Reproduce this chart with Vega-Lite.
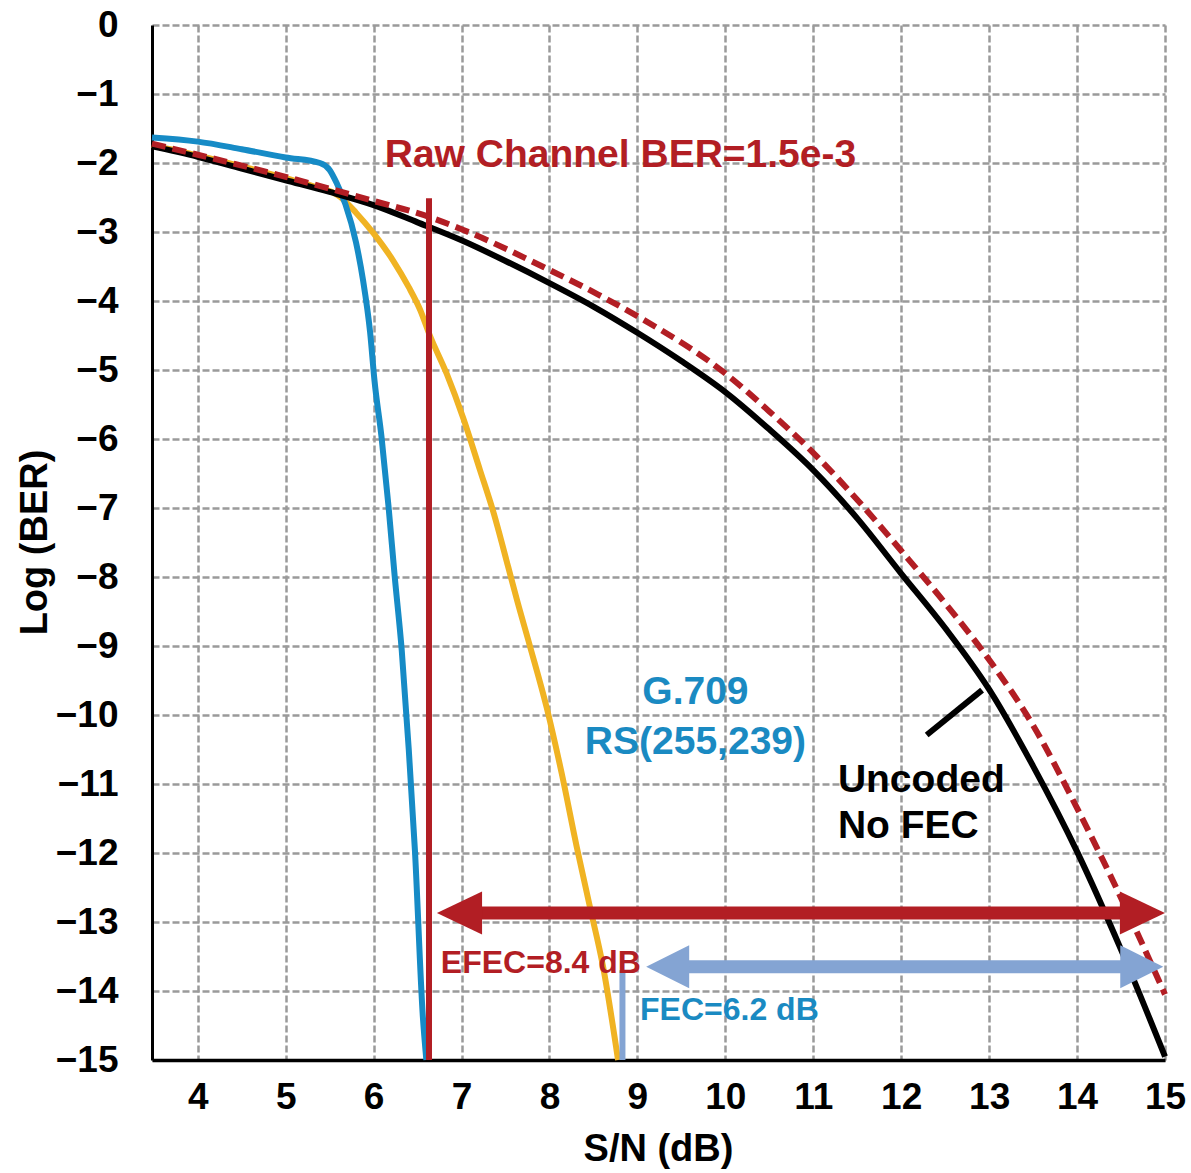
{
  "$schema": "https://vega.github.io/schema/vega-lite/v6.json",
  "width": 1013,
  "height": 1035,
  "autosize": "none",
  "padding": {"left": 152, "top": 25, "right": 26, "bottom": 113},
  "background": "white",
  "config": {"view": {"stroke": null}, "font": "Liberation Sans"},
  "datasets": {
    "uncoded": [
      {"x": 3.48, "y": -1.76}, {"x": 4.0, "y": -1.91}, {"x": 4.5, "y": -2.08}, {"x": 5.0, "y": -2.25},
      {"x": 5.5, "y": -2.42}, {"x": 6.0, "y": -2.61}, {"x": 6.5, "y": -2.86}, {"x": 7.0, "y": -3.12},
      {"x": 7.5, "y": -3.42}, {"x": 8.0, "y": -3.74}, {"x": 8.5, "y": -4.08}, {"x": 9.0, "y": -4.46},
      {"x": 9.5, "y": -4.87}, {"x": 10.0, "y": -5.32}, {"x": 10.5, "y": -5.86}, {"x": 11.0, "y": -6.45},
      {"x": 11.5, "y": -7.15}, {"x": 12.0, "y": -7.95}, {"x": 12.5, "y": -8.74}, {"x": 13.0, "y": -9.63},
      {"x": 13.5, "y": -10.74}, {"x": 14.0, "y": -11.98}, {"x": 14.5, "y": -13.4}, {"x": 15.0, "y": -14.95}
    ],
    "rawchannel": [
      {"x": 3.48, "y": -1.72}, {"x": 4.0, "y": -1.88}, {"x": 5.0, "y": -2.2}, {"x": 6.0, "y": -2.55},
      {"x": 6.63, "y": -2.78}, {"x": 7.0, "y": -2.96}, {"x": 8.0, "y": -3.55}, {"x": 8.56, "y": -3.91},
      {"x": 9.0, "y": -4.22}, {"x": 10.0, "y": -5.05}, {"x": 10.5, "y": -5.6}, {"x": 11.0, "y": -6.2},
      {"x": 11.5, "y": -6.88}, {"x": 12.0, "y": -7.62}, {"x": 12.5, "y": -8.38}, {"x": 13.0, "y": -9.2},
      {"x": 13.5, "y": -10.15}, {"x": 14.0, "y": -11.35}, {"x": 14.5, "y": -12.65}, {"x": 15.0, "y": -14.05}
    ],
    "rs": [
      {"x": 3.48, "y": -1.74}, {"x": 4.0, "y": -1.89}, {"x": 4.5, "y": -2.05}, {"x": 5.0, "y": -2.22},
      {"x": 5.3, "y": -2.33}, {"x": 5.62, "y": -2.49}, {"x": 5.8, "y": -2.72}, {"x": 6.0, "y": -3.02},
      {"x": 6.22, "y": -3.41}, {"x": 6.4, "y": -3.8}, {"x": 6.53, "y": -4.13}, {"x": 6.64, "y": -4.5},
      {"x": 6.83, "y": -5.05}, {"x": 7.02, "y": -5.7}, {"x": 7.21, "y": -6.45}, {"x": 7.36, "y": -7.05},
      {"x": 7.53, "y": -7.85}, {"x": 7.63, "y": -8.33}, {"x": 7.78, "y": -9.01}, {"x": 7.97, "y": -9.9},
      {"x": 8.14, "y": -10.85}, {"x": 8.31, "y": -11.91}, {"x": 8.46, "y": -12.78}, {"x": 8.61, "y": -13.65},
      {"x": 8.78, "y": -15.0}
    ],
    "efec": [
      {"x": 3.48, "y": -1.63}, {"x": 4.0, "y": -1.69}, {"x": 4.5, "y": -1.8}, {"x": 5.0, "y": -1.92},
      {"x": 5.39, "y": -2.0}, {"x": 5.5, "y": -2.1}, {"x": 5.58, "y": -2.29}, {"x": 5.68, "y": -2.6},
      {"x": 5.8, "y": -3.15}, {"x": 5.88, "y": -3.7}, {"x": 5.96, "y": -4.45}, {"x": 6.01, "y": -5.15},
      {"x": 6.09, "y": -5.97}, {"x": 6.17, "y": -6.98}, {"x": 6.24, "y": -7.99}, {"x": 6.32, "y": -9.06},
      {"x": 6.4, "y": -10.5}, {"x": 6.47, "y": -11.96}, {"x": 6.56, "y": -14.37}, {"x": 6.6, "y": -15.0}
    ]
  },
  "encoding": {
    "x": {
      "field": "x", "type": "quantitative",
      "scale": {"domain": [3.48, 15], "nice": false, "zero": false},
      "axis": {
        "values": [4, 5, 6, 7, 8, 9, 10, 11, 12, 13, 14, 15],
        "title": "S/N (dB)",
        "grid": true, "gridColor": "#9a9a9a", "gridDash": [7, 3], "gridWidth": 2.5, "gridOpacity": 1,
        "ticks": false, "domainColor": "black", "domainWidth": 3.5,
        "labelFont": "Liberation Sans", "labelFontSize": 37, "labelFontWeight": "bold", "labelColor": "black",
        "labelPadding": 19, "labelFlush": false, "labelOverlap": false,
        "titleFont": "Liberation Sans", "titleFontSize": 38, "titleFontWeight": "bold", "titleColor": "black",
        "titleX": 506, "titleY": 89, "titleBaseline": "middle", "titleAlign": "center"
      }
    },
    "y": {
      "field": "y", "type": "quantitative",
      "scale": {"domain": [-15, 0], "nice": false, "zero": false},
      "axis": {
        "values": [-15, -14, -13, -12, -11, -10, -9, -8, -7, -6, -5, -4, -3, -2, -1, 0],
        "title": "Log (BER)",
        "grid": true, "gridColor": "#9a9a9a", "gridDash": [7, 3], "gridWidth": 2.5, "gridOpacity": 1,
        "ticks": false, "domainColor": "black", "domainWidth": 3,
        "labelFont": "Liberation Sans", "labelFontSize": 37, "labelFontWeight": "bold", "labelColor": "black",
        "labelPadding": 34, "labelFlush": false, "labelOverlap": false,
        "titleFont": "Liberation Sans", "titleFontSize": 38, "titleFontWeight": "bold", "titleColor": "black",
        "titleX": -117, "titleY": 517, "titleAngle": -90, "titleBaseline": "middle", "titleAlign": "center"
      }
    }
  },
  "layer": [
    {"data": {"name": "rs"}, "mark": {"type": "line", "color": "#F0B323", "strokeWidth": 6, "interpolate": "monotone"}},
    {"data": {"name": "efec"}, "mark": {"type": "line", "color": "#168BC6", "strokeWidth": 6, "interpolate": "monotone"}},
    {"data": {"name": "uncoded"}, "mark": {"type": "line", "color": "#000000", "strokeWidth": 6, "interpolate": "monotone"}},
    {"data": {"name": "rawchannel"}, "mark": {"type": "line", "color": "#B21E24", "strokeWidth": 6, "strokeDash": [14, 7], "interpolate": "monotone"}},
    {
      "data": {"values": [{"x": 6.63, "y": -2.51, "y2": -15}]},
      "mark": {"type": "rule", "color": "#B21E24", "strokeWidth": 6},
      "encoding": {"y2": {"field": "y2"}}
    },
    {
      "data": {"values": [{"x": 8.83, "y": -13.7, "y2": -15}]},
      "mark": {"type": "rule", "color": "#84A4D3", "strokeWidth": 6},
      "encoding": {"y2": {"field": "y2"}}
    },
    {
      "data": {"values": [{"x": 7.0, "x2": 14.7, "y": -12.87}]},
      "mark": {"type": "rule", "color": "#B21E24", "strokeWidth": 13},
      "encoding": {"x2": {"field": "x2"}}
    },
    {
      "data": {"values": [{"x": 9.4, "x2": 14.7, "y": -13.65}]},
      "mark": {"type": "rule", "color": "#84A4D3", "strokeWidth": 13},
      "encoding": {"x2": {"field": "x2"}}
    },
    {
      "data": {"values": [{"x": 6.72, "y": -12.87}]},
      "mark": {"type": "point", "shape": "M 0 0 L 2.1 -1 L 2.1 1 Z", "filled": true, "opacity": 1, "size": 1849, "color": "#B21E24", "strokeWidth": 0}
    },
    {
      "data": {"values": [{"x": 15.0, "y": -12.87}]},
      "mark": {"type": "point", "shape": "M 0 0 L -2.1 -1 L -2.1 1 Z", "filled": true, "opacity": 1, "size": 1849, "color": "#B21E24", "strokeWidth": 0}
    },
    {
      "data": {"values": [{"x": 9.1, "y": -13.65}]},
      "mark": {"type": "point", "shape": "M 0 0 L 2 -1 L 2 1 Z", "filled": true, "opacity": 1, "size": 1849, "color": "#84A4D3", "strokeWidth": 0}
    },
    {
      "data": {"values": [{"x": 14.98, "y": -13.65}]},
      "mark": {"type": "point", "shape": "M 0 0 L -2 -1 L -2 1 Z", "filled": true, "opacity": 1, "size": 1849, "color": "#84A4D3", "strokeWidth": 0}
    },
    {
      "data": {"values": [{"x": 12.29, "y": -10.29}, {"x": 12.92, "y": -9.64}]},
      "mark": {"type": "line", "color": "#000000", "strokeWidth": 6}
    },
    {
      "data": {"values": [{"x": 6.127, "y": -1.88, "label": "Raw Channel BER=1.5e-3"}]},
      "mark": {"type": "text", "align": "left", "baseline": "middle", "font": "Liberation Sans", "fontSize": 39, "fontWeight": "bold", "color": "#B21E24"},
      "encoding": {"text": {"field": "label"}}
    },
    {
      "data": {"values": [{"x": 9.66, "y": -9.67, "label": "G.709"}, {"x": 9.66, "y": -10.39, "label": "RS(255,239)"}]},
      "mark": {"type": "text", "align": "center", "baseline": "middle", "font": "Liberation Sans", "fontSize": 39, "fontWeight": "bold", "color": "#1A8AC2"},
      "encoding": {"text": {"field": "label"}}
    },
    {
      "data": {"values": [{"x": 11.28, "y": -10.94, "label": "Uncoded"}, {"x": 11.28, "y": -11.61, "label": "No FEC"}]},
      "mark": {"type": "text", "align": "left", "baseline": "middle", "font": "Liberation Sans", "fontSize": 39, "fontWeight": "bold", "color": "#000000"},
      "encoding": {"text": {"field": "label"}}
    },
    {
      "data": {"values": [{"x": 6.765, "y": -13.59, "label": "EFEC=8.4 dB"}]},
      "mark": {"type": "text", "align": "left", "baseline": "middle", "font": "Liberation Sans", "fontSize": 32, "fontWeight": "bold", "color": "#B21E24"},
      "encoding": {"text": {"field": "label"}}
    },
    {
      "data": {"values": [{"x": 9.03, "y": -14.28, "label": "FEC=6.2 dB"}]},
      "mark": {"type": "text", "align": "left", "baseline": "middle", "font": "Liberation Sans", "fontSize": 32, "fontWeight": "bold", "color": "#1A8AC2"},
      "encoding": {"text": {"field": "label"}}
    }
  ]
}
